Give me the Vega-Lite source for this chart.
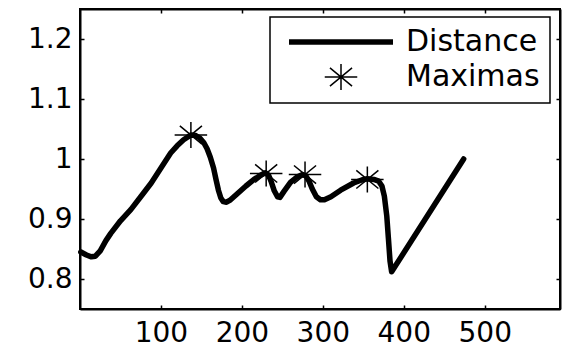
{
  "$schema": "https://vega.github.io/schema/vega-lite/v6.json",
  "width": 480,
  "height": 300,
  "autosize": {"type": "none"},
  "padding": {"left": 80, "top": 9, "right": 2, "bottom": 38},
  "background": "white",
  "config": {
    "view": {"stroke": "black", "strokeWidth": 2},
    "font": "DejaVu Sans",
    "axis": {"grid": false, "domainColor": "black", "domainWidth": 2, "tickColor": "black", "tickWidth": 1.5, "labelColor": "black", "labelFont": "DejaVu Sans", "labelFontSize": 28, "title": null}
  },
  "datasets": {
    "distance": [
      {"x": 1, "y": 0.845, "series": "Distance"},
      {"x": 8, "y": 0.840, "series": "Distance"},
      {"x": 14, "y": 0.837, "series": "Distance"},
      {"x": 19, "y": 0.838, "series": "Distance"},
      {"x": 25, "y": 0.847, "series": "Distance"},
      {"x": 32, "y": 0.864, "series": "Distance"},
      {"x": 38, "y": 0.876, "series": "Distance"},
      {"x": 50, "y": 0.897, "series": "Distance"},
      {"x": 63, "y": 0.916, "series": "Distance"},
      {"x": 75, "y": 0.937, "series": "Distance"},
      {"x": 88, "y": 0.960, "series": "Distance"},
      {"x": 100, "y": 0.985, "series": "Distance"},
      {"x": 112, "y": 1.010, "series": "Distance"},
      {"x": 120, "y": 1.022, "series": "Distance"},
      {"x": 128, "y": 1.032, "series": "Distance"},
      {"x": 137, "y": 1.040, "series": "Distance"},
      {"x": 143, "y": 1.039, "series": "Distance"},
      {"x": 148, "y": 1.035, "series": "Distance"},
      {"x": 153, "y": 1.027, "series": "Distance"},
      {"x": 157, "y": 1.017, "series": "Distance"},
      {"x": 161, "y": 1.003, "series": "Distance"},
      {"x": 165, "y": 0.985, "series": "Distance"},
      {"x": 168, "y": 0.966, "series": "Distance"},
      {"x": 171, "y": 0.948, "series": "Distance"},
      {"x": 174, "y": 0.935, "series": "Distance"},
      {"x": 177, "y": 0.929, "series": "Distance"},
      {"x": 181, "y": 0.928, "series": "Distance"},
      {"x": 186, "y": 0.932, "series": "Distance"},
      {"x": 195, "y": 0.943, "series": "Distance"},
      {"x": 205, "y": 0.955, "series": "Distance"},
      {"x": 215, "y": 0.966, "series": "Distance"},
      {"x": 223, "y": 0.973, "series": "Distance"},
      {"x": 229, "y": 0.977, "series": "Distance"},
      {"x": 233, "y": 0.973, "series": "Distance"},
      {"x": 236, "y": 0.963, "series": "Distance"},
      {"x": 240, "y": 0.947, "series": "Distance"},
      {"x": 244, "y": 0.937, "series": "Distance"},
      {"x": 247, "y": 0.936, "series": "Distance"},
      {"x": 252, "y": 0.946, "series": "Distance"},
      {"x": 260, "y": 0.961, "series": "Distance"},
      {"x": 268, "y": 0.970, "series": "Distance"},
      {"x": 275, "y": 0.974, "series": "Distance"},
      {"x": 279, "y": 0.972, "series": "Distance"},
      {"x": 283, "y": 0.963, "series": "Distance"},
      {"x": 287, "y": 0.950, "series": "Distance"},
      {"x": 292, "y": 0.937, "series": "Distance"},
      {"x": 297, "y": 0.932, "series": "Distance"},
      {"x": 302, "y": 0.932, "series": "Distance"},
      {"x": 310, "y": 0.937, "series": "Distance"},
      {"x": 322, "y": 0.948, "series": "Distance"},
      {"x": 338, "y": 0.960, "series": "Distance"},
      {"x": 348, "y": 0.965, "series": "Distance"},
      {"x": 355, "y": 0.967, "series": "Distance"},
      {"x": 363, "y": 0.966, "series": "Distance"},
      {"x": 369, "y": 0.963, "series": "Distance"},
      {"x": 373, "y": 0.955, "series": "Distance"},
      {"x": 376, "y": 0.938, "series": "Distance"},
      {"x": 379, "y": 0.905, "series": "Distance"},
      {"x": 381, "y": 0.868, "series": "Distance"},
      {"x": 383, "y": 0.830, "series": "Distance"},
      {"x": 385, "y": 0.812, "series": "Distance"},
      {"x": 474, "y": 1.000, "series": "Distance"}
    ],
    "maxima": [
      {"x": 137, "y": 1.040, "series": "Maximas"},
      {"x": 230, "y": 0.976, "series": "Maximas"},
      {"x": 278, "y": 0.974, "series": "Maximas"},
      {"x": 355, "y": 0.966, "series": "Maximas"}
    ]
  },
  "layer": [
    {
      "data": {"name": "distance"},
      "mark": {"type": "line", "color": "black", "strokeWidth": 5.5, "interpolate": "linear", "strokeCap": "round", "strokeJoin": "round"},
      "encoding": {
        "x": {"field": "x", "type": "quantitative", "scale": {"domain": [0, 593], "nice": false, "zero": false}, "axis": {"orient": "bottom", "values": [100, 200, 300, 400, 500], "tickSize": -4, "labelPadding": 14, "title": null}},
        "y": {"field": "y", "type": "quantitative", "scale": {"domain": [0.75, 1.25], "nice": false, "zero": false}, "axis": {"orient": "left", "values": [0.8, 0.9, 1, 1.1, 1.2], "format": ".2~f", "tickSize": -4, "labelPadding": 12, "title": null}},
        "color": {
          "field": "series", "type": "nominal",
          "scale": {"domain": ["Distance", "Maximas"], "range": ["black", "black"]},
          "legend": {
            "orient": "none", "legendX": 190, "legendY": 8, "title": null,
            "strokeColor": "black", "fillColor": "white", "padding": 10,
            "symbolSize": 676, "symbolOffset": 46, "labelOffset": 50,
            "labelFontSize": 30, "labelFont": "DejaVu Sans", "labelColor": "black",
            "rowPadding": 4, "symbolStrokeWidth": 1.5,
            "encode": {
              "legend": {"update": {"strokeWidth": {"value": 1.5}}},
              "symbols": {"update": {
                "shape": {"signal": "datum.value === 'Distance' ? 'M-4,0L4,0' : 'M-1.25,0L1.25,0M0,-1L0,1M-0.85,-0.7L0.85,0.7M-0.85,0.7L0.85,-0.7'"},
                "strokeWidth": {"signal": "datum.value === 'Distance' ? 5.5 : 1.5"},
                "stroke": {"value": "black"},
                "fill": {"value": "transparent"}
              }}
            }
          }
        }
      }
    },
    {
      "data": {"name": "maxima"},
      "mark": {"type": "point", "filled": false, "color": "black", "strokeWidth": 1.5, "size": 676, "opacity": 1, "shape": "M-1.25,0L1.25,0M0,-1L0,1M-0.85,-0.7L0.85,0.7M-0.85,0.7L0.85,-0.7"},
      "encoding": {
        "x": {"field": "x", "type": "quantitative", "scale": {"domain": [0, 593], "nice": false, "zero": false}, "axis": {"orient": "top", "values": [100, 200, 300, 400, 500], "labels": false, "tickSize": -4, "title": null}},
        "y": {"field": "y", "type": "quantitative", "scale": {"domain": [0.75, 1.25], "nice": false, "zero": false}, "axis": {"orient": "right", "values": [0.8, 0.9, 1, 1.1, 1.2], "labels": false, "tickSize": -4, "title": null}}
      }
    }
  ],
  "resolve": {"axis": {"x": "independent", "y": "independent"}}
}
